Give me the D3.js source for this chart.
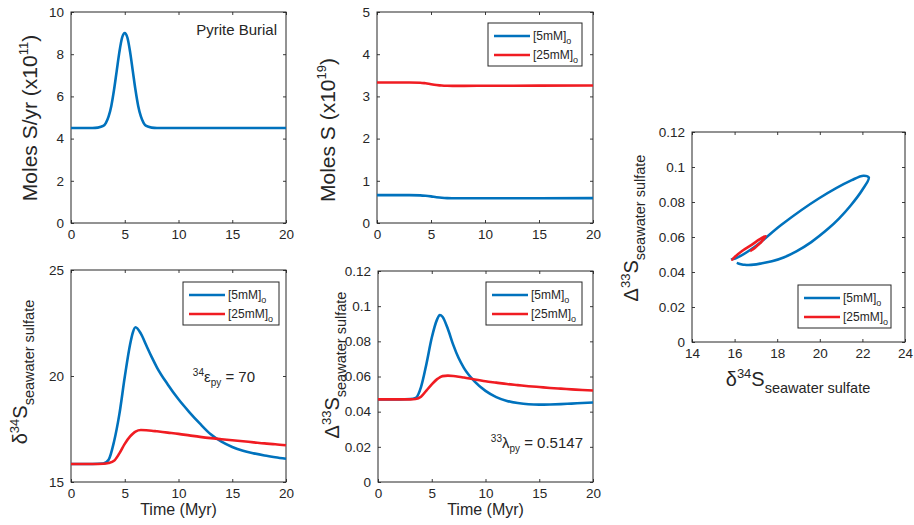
<!DOCTYPE html>
<html>
<head>
<meta charset="utf-8">
<script src="https://cdn.jsdelivr.net/npm/d3@7"></script>
<style>
  html, body { margin: 0; padding: 0; background: #ffffff; }
  svg { display: block; }
  text { font-family: "Liberation Sans", Arial, Helvetica, sans-serif; fill: #262626; }
</style>
</head>
<body>
<svg id="chart" width="914" height="525"></svg>
<script>
// ---------------- DATA ----------------
// Panel 1: pyrite burial flux (x10^11 mol S / yr)
const burialTime = [0, 2, 2.5, 3, 3.25, 3.5, 3.75, 4, 4.25, 4.5, 4.75, 5, 5.25, 5.5, 5.75, 6, 6.25, 6.5, 6.75, 7, 7.5, 8, 10, 15, 20];
const burialFlux = [4.5, 4.5, 4.52, 4.6, 4.75, 5.05, 5.55, 6.3, 7.2, 8.1, 8.78, 9.0, 8.78, 8.1, 7.2, 6.3, 5.55, 5.05, 4.75, 4.6, 4.52, 4.5, 4.5, 4.5, 4.5];

// Panel 2: seawater sulfate reservoir (x10^19 mol S)
const reservoirTime = [0, 2, 3, 4, 4.5, 5, 5.5, 6, 6.5, 7, 8, 10, 15, 20];
const moles5mM  = [0.66, 0.66, 0.66, 0.655, 0.645, 0.63, 0.612, 0.598, 0.59, 0.587, 0.585, 0.586, 0.588, 0.59];
const moles25mM = [3.33, 3.33, 3.33, 3.325, 3.31, 3.29, 3.272, 3.258, 3.252, 3.25, 3.25, 3.252, 3.255, 3.26];

// Panels 3-5: isotope composition of seawater sulfate
const isoTime  = [0, 1, 2, 3, 3.5, 4, 4.5, 5, 5.5, 5.75, 6, 6.5, 7, 7.5, 8, 9, 10, 11, 12, 13, 14, 15, 16, 17, 18, 19, 20];
const d34S5mM  = [15.85, 15.85, 15.85, 15.87, 16.05, 16.9, 18.2, 19.95, 21.5, 22.05, 22.3, 22.0, 21.45, 20.9, 20.4, 19.6, 18.9, 18.3, 17.75, 17.25, 16.9, 16.65, 16.47, 16.35, 16.25, 16.17, 16.1];
const d34S25mM = [15.85, 15.85, 15.85, 15.86, 15.9, 16.0, 16.35, 16.8, 17.15, 17.28, 17.38, 17.45, 17.44, 17.42, 17.39, 17.33, 17.27, 17.2, 17.13, 17.07, 17.02, 16.97, 16.92, 16.87, 16.82, 16.78, 16.73];
const D33S5mM  = [0.047, 0.047, 0.047, 0.0472, 0.0478, 0.054, 0.067, 0.082, 0.0925, 0.095, 0.094, 0.087, 0.078, 0.0705, 0.0648, 0.0571, 0.0518, 0.0483, 0.0461, 0.0449, 0.0442, 0.044, 0.0441, 0.0443, 0.0446, 0.0449, 0.0452];
const D33S25mM = [0.047, 0.047, 0.047, 0.047, 0.0472, 0.0485, 0.052, 0.0555, 0.0585, 0.0595, 0.0602, 0.0605, 0.0603, 0.0599, 0.0594, 0.0583, 0.0573, 0.0565, 0.0557, 0.0551, 0.0545, 0.054, 0.0535, 0.0531, 0.0527, 0.0523, 0.052];

// Ticks
const timeTicks = [0, 5, 10, 15, 20];
const burialTicks = [0, 2, 4, 6, 8, 10];
const reservoirTicks = [0, 1, 2, 3, 4, 5];
const d34Ticks = [15, 20, 25];
const D33Ticks = [0, 0.02, 0.04, 0.06, 0.08, 0.1, 0.12];
const d34CrossTicks = [14, 16, 18, 20, 22, 24];

const seriesNames = ["5mM", "25mM"];

// ---------------- STYLE ----------------
const BLUE = "#0072BD", RED = "#F01C22", AX = "#262626";
const LW = 2.6;

const svg = d3.select("#chart");

function frame(x, y, xt, yt) {
  const g = svg.append("g");
  const [x0, x1] = x.range();
  const [y1, y0] = y.range();
  const fmt = d3.format("~g");
  const styleAxis = sel => {
    sel.select(".domain").remove();
    sel.selectAll(".tick line").attr("stroke", AX).attr("stroke-width", 0.9);
    sel.selectAll(".tick text").attr("fill", AX).style("font-size", "13.5px")
       .style("font-family", '"Liberation Sans", Arial, Helvetica, sans-serif');
    sel.attr("font-family", null).attr("font-size", null);
  };
  g.append("g").attr("transform", `translate(0,${y1})`)
    .call(d3.axisBottom(x).tickValues(xt).tickSize(-3).tickPadding(6).tickFormat(fmt)).call(styleAxis);
  g.append("g").attr("transform", `translate(0,${y0})`)
    .call(d3.axisTop(x).tickValues(xt).tickSize(-3).tickFormat("")).call(styleAxis);
  g.append("g").attr("transform", `translate(${x0},0)`)
    .call(d3.axisLeft(y).tickValues(yt).tickSize(-3).tickPadding(7).tickFormat(fmt)).call(styleAxis);
  g.append("g").attr("transform", `translate(${x1},0)`)
    .call(d3.axisRight(y).tickValues(yt).tickSize(-3).tickFormat("")).call(styleAxis);
  g.append("rect").attr("x", x0).attr("y", y0).attr("width", x1 - x0).attr("height", y1 - y0)
    .attr("fill", "none").attr("stroke", AX).attr("stroke-width", 1);
  return g;
}

function drawLine(pts, x, y, color, curve) {
  svg.append("path").datum(pts)
    .attr("fill", "none").attr("stroke", color).attr("stroke-width", LW)
    .attr("stroke-linejoin", "round").attr("stroke-linecap", "butt")
    .attr("d", d3.line().x(d => x(d[0])).y(d => y(d[1])).curve(curve));
}

function legend(bx, by, w, h) {
  const g = svg.append("g");
  g.append("rect").attr("x", bx).attr("y", by).attr("width", w).attr("height", h)
    .attr("fill", "#fff").attr("stroke", AX).attr("stroke-width", 1);
  [BLUE, RED].forEach((c, i) => {
    const ly = by + 13 + i * 19;
    g.append("line").attr("x1", bx + 6).attr("x2", bx + 42).attr("y1", ly).attr("y2", ly)
      .attr("stroke", c).attr("stroke-width", LW);
    const t = g.append("text").attr("x", bx + 45).attr("y", ly + 4).style("font-size", "12px");
    t.append("tspan").text("[" + seriesNames[i] + "]");
    t.append("tspan").attr("dy", 4).style("font-size", "9px").text("o");
  });
}

// labels built from parts: [text, size, dy]
function richLabel(x, y, rotate, parts, anchor) {
  const t = svg.append("text")
    .attr("transform", `translate(${x},${y})` + (rotate ? " rotate(-90)" : ""))
    .attr("text-anchor", anchor || "middle");
  parts.forEach(p => t.append("tspan").attr("dy", p[2] || 0).style("font-size", p[1] + "px").text(p[0]));
  return t;
}

const monotone = d3.curveMonotoneX;

// ---------------- PANEL 1 ----------------
{
  const x = d3.scaleLinear().domain([0, 20]).range([71, 286]);
  const y = d3.scaleLinear().domain([0, 10]).range([223, 12]);
  frame(x, y, timeTicks, burialTicks);
  drawLine(d3.zip(burialTime, burialFlux), x, y, BLUE, monotone);
  svg.append("text").attr("x", 277).attr("y", 35).attr("text-anchor", "end")
    .style("font-size", "15px").text("Pyrite Burial");
  richLabel(37, 118, true, [["Moles S/yr (x10", 21], ["11", 13, -9], [")", 21, 9]]);
}

// ---------------- PANEL 2 ----------------
{
  const x = d3.scaleLinear().domain([0, 20]).range([377, 593]);
  const y = d3.scaleLinear().domain([0, 5]).range([223, 12]);
  frame(x, y, timeTicks, reservoirTicks);
  drawLine(d3.zip(reservoirTime, moles5mM), x, y, BLUE, monotone);
  drawLine(d3.zip(reservoirTime, moles25mM), x, y, RED, monotone);
  legend(488, 23, 94, 43);
  richLabel(335, 130, true, [["Moles S (x10", 21], ["19", 13, -9], [")", 21, 9]]);
}

// ---------------- PANEL 3 ----------------
{
  const x = d3.scaleLinear().domain([0, 20]).range([71, 286]);
  const y = d3.scaleLinear().domain([15, 25]).range([482, 270]);
  frame(x, y, timeTicks, d34Ticks);
  drawLine(d3.zip(isoTime, d34S5mM), x, y, BLUE, monotone);
  drawLine(d3.zip(isoTime, d34S25mM), x, y, RED, monotone);
  legend(183, 282, 96, 43);
  svg.append("text").attr("x", 178.5).attr("y", 515).attr("text-anchor", "middle")
    .style("font-size", "16px").text("Time (Myr)");
  richLabel(27, 372, true, [["δ", 20], ["34", 13, -8], ["S", 20, 8], ["seawater sulfate", 14.5, 7]]);
  richLabel(255, 382, false, [["34", 10, -6], ["ε", 15, 6], ["py", 10, 4], [" = 70", 15, -4]], "end");
}

// ---------------- PANEL 4 ----------------
{
  const x = d3.scaleLinear().domain([0, 20]).range([378, 593]);
  const y = d3.scaleLinear().domain([0, 0.12]).range([482, 271]);
  frame(x, y, timeTicks, D33Ticks);
  drawLine(d3.zip(isoTime, D33S5mM), x, y, BLUE, monotone);
  drawLine(d3.zip(isoTime, D33S25mM), x, y, RED, monotone);
  legend(486, 282, 96, 43);
  svg.append("text").attr("x", 485.5).attr("y", 515).attr("text-anchor", "middle")
    .style("font-size", "16px").text("Time (Myr)");
  richLabel(339, 365, true, [["Δ", 20], ["33", 13, -8], ["S", 20, 8], ["seawater sulfate", 14.5, 7]]);
  richLabel(583, 448, false, [["33", 10, -6], ["λ", 15, 6], ["py", 10, 4], [" = 0.5147", 15, -4]], "end");
}

// ---------------- PANEL 5 ----------------
{
  const x = d3.scaleLinear().domain([14, 24]).range([692, 905]);
  const y = d3.scaleLinear().domain([0, 0.12]).range([342, 132]);
  frame(x, y, d34CrossTicks, D33Ticks);
  const cr = d3.curveCatmullRom.alpha(0.5);
  drawLine(d3.zip(d34S5mM, D33S5mM), x, y, BLUE, cr);
  drawLine(d3.zip(d34S25mM, D33S25mM), x, y, RED, cr);
  legend(798, 285, 93, 43);
  richLabel(638, 228, true, [["Δ", 20], ["33", 13, -8], ["S", 20, 8], ["seawater sulfate", 14.5, 7]]);
  richLabel(798, 386, false, [["δ", 20], ["34", 13, -8], ["S", 20, 8], ["seawater sulfate", 14.5, 7]]);
}
</script>
</body>
</html>
